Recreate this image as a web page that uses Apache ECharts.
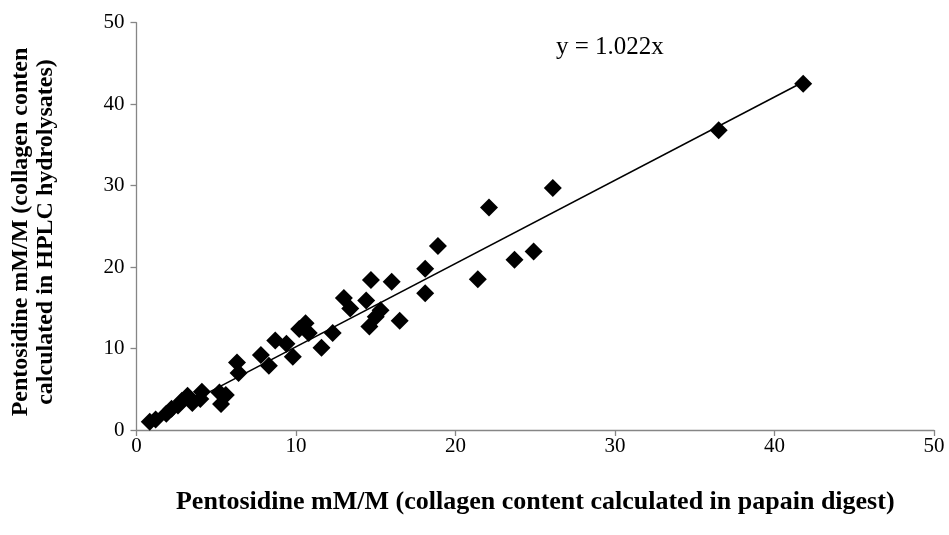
<!DOCTYPE html>
<html>
<head>
<meta charset="UTF-8">
<title>Pentosidine</title>
<script src="https://cdn.jsdelivr.net/npm/echarts@6/dist/echarts.min.js"></script>
<style>
  html, body { margin: 0; padding: 0; background: #fff; }
  #main { width: 949px; height: 535px; }
</style>
</head>
<body>
<div id="main"></div>
<script>
// papain digest (x) vs HPLC hydrolysates (y)
var xTicks = [0, 10, 20, 30, 40, 50];
var yTicks = [0, 10, 20, 30, 40, 50];
var points = [
  [0.83, 1.0], [1.2, 1.3], [1.87, 2.0], [2.2, 2.6], [2.6, 3.0], [2.85, 3.6],
  [3.2, 4.2], [3.5, 3.3], [4.0, 3.8], [4.1, 4.7], [5.2, 4.6], [5.3, 3.2],
  [5.6, 4.3], [6.3, 8.3], [6.4, 7.0], [7.8, 9.2], [8.3, 7.9], [8.7, 11.0],
  [9.4, 10.6], [9.8, 9.0], [10.2, 12.4], [10.6, 13.1], [10.8, 11.9], [11.6, 10.1],
  [12.3, 11.9], [13.0, 16.2], [13.4, 14.9], [14.4, 15.9], [14.6, 12.7], [14.7, 18.4],
  [15.0, 13.9], [15.3, 14.7], [16.0, 18.2], [16.5, 13.4], [18.1, 19.8], [18.1, 16.8],
  [18.9, 22.6], [21.4, 18.5], [22.1, 27.3], [23.7, 20.9], [24.9, 21.9], [26.1, 29.7],
  [36.5, 36.8], [41.8, 42.5]
];
var slope = 1.022;
var trendX = [0.83, 41.8];
var trendLine = trendX.map(function (x) { return [x, x * slope]; });

var axisGray = '#868686';
var font = '"Liberation Serif", "Times New Roman", serif';

var chart = echarts.init(document.getElementById('main'));
chart.setOption({
  animation: false,
  backgroundColor: '#fff',
  grid: { left: 136.5, right: 15, top: 22.7, bottom: 105 },
  xAxis: {
    type: 'value', min: xTicks[0], max: xTicks[xTicks.length - 1], interval: 10,
    name: 'Pentosidine mM/M (collagen content calculated in papain digest)',
    nameLocation: 'middle', nameGap: 59,
    nameTextStyle: { fontFamily: font, fontWeight: 'bold', fontSize: 26, color: '#000' },
    axisLine: { lineStyle: { color: axisGray, width: 1.3 } },
    axisTick: { show: true, length: 6, lineStyle: { color: axisGray, width: 1.3 } },
    axisLabel: { fontFamily: font, fontSize: 21, color: '#000', margin: 6 },
    splitLine: { show: false }
  },
  yAxis: {
    type: 'value', min: yTicks[0], max: yTicks[yTicks.length - 1], interval: 10,
    axisLine: { show: true, lineStyle: { color: axisGray, width: 1.3 } },
    axisTick: { show: true, length: 6, lineStyle: { color: axisGray, width: 1.3 } },
    axisLabel: { fontFamily: font, fontSize: 21, color: '#000', margin: 12 },
    splitLine: { show: false }
  },
  series: [
    {
      type: 'line', data: trendLine, symbol: 'none', silent: true,
      lineStyle: { color: '#000', width: 1.5 }, z: 1
    },
    {
      type: 'scatter', data: points, symbol: 'diamond', symbolSize: 18,
      itemStyle: { color: '#000', opacity: 1 }, z: 2
    }
  ],
  graphic: [
    {
      type: 'text', left: 556, top: 35,
      style: { text: 'y = 1.022x', font: '25px ' + font, fill: '#000' }
    },
    {
      type: 'text', x: 33, y: 232, rotation: Math.PI / 2,
      style: {
        text: 'Pentosidine mM/M (collagen conten\ncalculated in HPLC hydrolysates)',
        font: 'bold 24px ' + font, fill: '#000', lineHeight: 25,
        align: 'center', verticalAlign: 'middle'
      }
    }
  ]
});
</script>
</body>
</html>
